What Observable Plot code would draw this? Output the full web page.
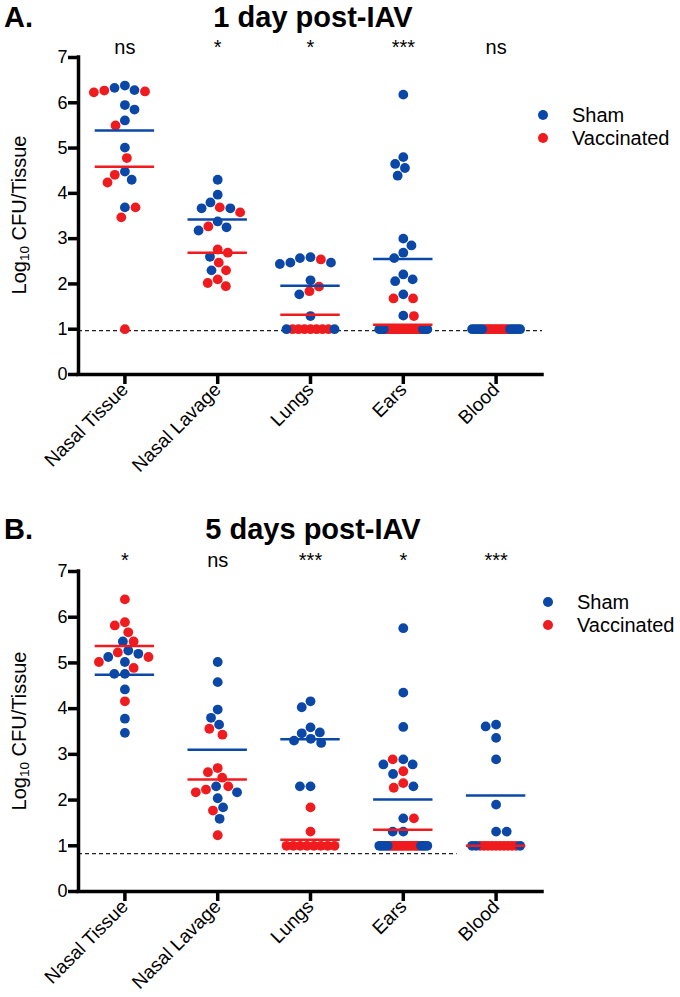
<!DOCTYPE html>
<html><head><meta charset="utf-8">
<script src="https://cdn.jsdelivr.net/npm/d3@7"></script>
<script src="https://cdn.jsdelivr.net/npm/@observablehq/plot@0.6"></script>
<style>
body{margin:0;background:#fff;font-family:"Liberation Sans",Arial,Helvetica,sans-serif;color:#000}
.panel{position:relative;width:680px}
.panel svg{display:block;overflow:visible}
.abs{position:absolute;white-space:nowrap;line-height:1}
.letter,.title{font-weight:bold;font-size:29px}
.title{transform:translateX(-50%)}
.ylab{font-size:20px;transform:translate(-50%,-50%) rotate(-90deg)}
.ylab sub{font-size:0.68em;vertical-align:-0.25em;line-height:0}
.legtext{font-size:20px}
.sw{position:absolute;width:10px;height:10px;border-radius:50%}
</style></head><body>
<div id="panelA" class="panel" style="height:500px"></div>
<div id="panelB" class="panel" style="height:497px"></div>
<script>
// ---------- data ----------
const categories = ["Nasal Tissue", "Nasal Lavage", "Lungs", "Ears", "Blood"];
const groups = ["Sham", "Vaccinated"];
const colors = ["#0b47a6", "#ef1b1f"];

// Panel A: 1 day post-IAV (log10 CFU/tissue)
const sigA = ["ns", "*", "*", "***", "ns"];
const shamA = [
  [6.33, 6.28, 6.38, 5.95, 5.85, 5.61, 5.01, 4.48, 4.30, 3.69],
  [4.30, 3.97, 3.80, 3.67, 3.67, 3.38, 3.25, 3.18, 2.60, 2.30],
  [2.57, 2.47, 2.44, 2.47, 2.59, 2.08, 1.77, 1.29, 1, 1],
  [6.18, 4.80, 4.56, 4.65, 4.39, 3.00, 2.85, 2.69, 2.57, 2.21, 2.06, 2.10, 1.77, 1.30, 1, 1, 1, 1, 1, 1],
  [1, 1, 1, 1, 1, 1, 1, 1, 1, 1]
];
const vaccA = [
  [6.27, 6.23, 6.25, 5.50, 4.78, 4.41, 4.24, 3.69, 3.47, 1.00],
  [3.58, 3.69, 3.27, 2.69, 2.76, 2.47, 2.30, 2.10, 1.95, 2.02],
  [2.54, 1.84, 1.94, 1, 1, 1, 1, 1, 1, 1],
  [1.68, 1.68, 1.29, 1, 1, 1, 1, 1, 1, 1, 1, 1, 1, 1, 1, 1, 1, 1, 1, 1],
  [1, 1, 1, 1, 1, 1, 1, 1, 1, 1]
];
const meanShamA = [5.39, 3.42, 1.96, 2.55, null];
const meanVaccA = [4.59, 2.69, 1.32, 1.10, null];
const lodA = [0.97];
const lodEndA = 4.5;

// Panel B: 5 days post-IAV
const sigB = ["*", "ns", "***", "*", "***"];
const shamB = [
  [5.47, 5.13, 5.20, 5.27, 5.02, 4.76, 4.76, 4.42, 3.78, 3.47],
  [5.02, 4.58, 3.98, 3.80, 3.65, 2.04, 2.17, 2.30, 1.84, 1.59],
  [4.16, 4.03, 3.59, 3.46, 3.48, 3.30, 3.25, 3.34, 2.30, 2.30],
  [5.76, 4.35, 3.60, 2.78, 2.78, 2.89, 2.57, 2.30, 1.60, 1.31, 1.31, 1, 1, 1, 1, 1, 1, 1, 1, 1],
  [3.61, 3.65, 3.36, 2.89, 1.90, 1.31, 1.31, 1, 1, 1]
];
const vaccB = [
  [6.39, 5.89, 5.67, 5.82, 5.47, 5.23, 5.13, 5.02, 4.89, 4.16],
  [3.43, 3.56, 2.61, 2.49, 2.70, 2.30, 2.17, 2.23, 1.77, 1.23],
  [1.84, 1.31, 1, 1, 1, 1, 1, 1, 1, 1],
  [2.89, 2.63, 2.37, 2.27, 1.60, 1, 1, 1, 1, 1, 1, 1, 1, 1, 1, 1, 1, 1, 1, 1],
  [1, 1, 1, 1, 1, 1, 1, 1, 1, 1]
];
const meanShamB = [4.74, 3.10, 3.33, 2.01, 2.10];
const meanVaccB = [5.37, 2.45, 1.13, 1.35, 1.00];
const lodB = [0.83];
const lodEndB = 3.58;

const yTicks = [0, 1, 2, 3, 4, 5, 6, 7];

// ---------- layout helpers ----------
const W = 680, ML = 78, MR = 138;
const xDomain = [-0.5, categories.length - 0.5];
const STEP = (W - ML - MR) / categories.length;
const R = 4.9, D = 10.6, MAXROW = 48, MEANHW = 0.32;

function swarm(points, pxPerUnit) {
  const counts = d3.rollup(points, v => v.length, d => d.value);
  const placed = [];
  for (const [val, n] of counts) {
    if (n < 4) continue;
    const members = points.filter(p => p.value === val);
    const blues = members.filter(p => p.group === 0), reds = members.filter(p => p.group === 1);
    const nl = Math.ceil(blues.length / 2);
    const ordered = [...blues.slice(0, nl), ...reds, ...blues.slice(nl)];
    const s = Math.min(D, MAXROW / (n - 1));
    ordered.forEach((p, k) => {
      p.px = (k - (n - 1) / 2) * s; p.py = val * pxPerUnit; p.tie = true; placed.push(p);
    });
  }
  const rest = points.filter(p => counts.get(p.value) < 4).sort((a, b) => b.value - a.value);
  let side = -1;
  for (const p of rest) {
    p.py = p.value * pxPerUnit;
    const cands = [0];
    for (const q of placed) {
      const dy = Math.abs(q.py - p.py);
      if (dy < D) { const dx = Math.sqrt(D * D - dy * dy); cands.push(q.px + dx, q.px - dx); }
    }
    const ok = x => placed.every(q => (q.px - x) ** 2 + (q.py - p.py) ** 2 >= D * D - 1e-6);
    let best = null;
    for (const x of cands) {
      if (!ok(x)) continue;
      if (best === null) { best = x; continue; }
      const a = Math.abs(x), b = Math.abs(best);
      if (a < b - 0.5 || (Math.abs(a - b) <= 0.5 && Math.sign(x) === side)) best = x;
    }
    p.px = best;
    if (best !== 0) side = -Math.sign(best);
    p.tie = false;
    placed.push(p);
  }
}

function buildDots(sham, vacc, pxPerUnit) {
  const out = [];
  categories.forEach((c, i) => {
    const pts = [
      ...sham[i].map(v => ({value: v, group: 0})),
      ...vacc[i].map(v => ({value: v, group: 1}))
    ];
    swarm(pts, pxPerUnit);
    pts.forEach(p => out.push({i, x: i + p.px / STEP, value: p.value, group: groups[p.group],
      order: p.tie ? 1 + Math.abs(p.px) : 0}));
  });
  return out.sort((a, b) => a.order - b.order);
}

function meanRows(ms, mv) {
  const rows = [];
  categories.forEach((c, i) => {
    if (ms[i] != null) rows.push({i, value: ms[i], group: groups[0]});
    if (mv[i] != null) rows.push({i, value: mv[i], group: groups[1]});
  });
  return rows;
}

function drawPanel(cfg) {
  const host = document.getElementById(cfg.id);
  const plotH = cfg.height - cfg.mt - cfg.mb;
  const pxPerUnit = plotH / (yTicks[yTicks.length - 1] - yTicks[0]);
  const dots = buildDots(cfg.sham, cfg.vacc, pxPerUnit);
  const means = meanRows(cfg.meanSham, cfg.meanVacc);
  const chart = Plot.plot({
    width: W, height: cfg.height,
    marginLeft: ML, marginRight: MR, marginTop: cfg.mt, marginBottom: cfg.mb,
    style: {fontFamily: '"Liberation Sans", Arial, sans-serif', background: "white", color: "black"},
    x: {domain: xDomain},
    y: {domain: [yTicks[0], yTicks[yTicks.length - 1]]},
    color: {domain: groups, range: colors},
    marks: [
      Plot.ruleY(cfg.lod, {y: d => d, x1: xDomain[0], x2: cfg.lodEnd, stroke: "#222", strokeWidth: 1.3, strokeDasharray: "4,3"}),
      Plot.axisY({ticks: yTicks, tickSize: 10, tickPadding: 1, strokeWidth: 3.5, fontSize: 18, label: null, tickFormat: d3.format("d")}),
      Plot.axisX({ticks: d3.range(categories.length), tickFormat: i => categories[i], tickRotate: -45,
        tickSize: 10, tickPadding: 2, strokeWidth: 3.5, fontSize: 19, label: null}),
      Plot.ruleY([yTicks[0]], {strokeWidth: 3.5, strokeLinecap: "square"}),
      Plot.ruleX([xDomain[0]], {strokeWidth: 3.5, strokeLinecap: "square"}),
      Plot.dot(dots, {x: "x", y: "value", r: R, fill: "group"}),
      Plot.ruleY(means, {y: "value", x1: d => d.i - MEANHW, x2: d => d.i + MEANHW, stroke: "group", strokeWidth: 2.5}),
      Plot.text(cfg.sig, {x: (d, i) => i, text: d => d, frameAnchor: "top", lineAnchor: "bottom", dy: cfg.sigDy, fontSize: 20})
    ]
  });
  host.appendChild(chart);

  const add = (cls, html, css) => {
    const el = document.createElement("div");
    el.className = "abs " + cls; el.innerHTML = html;
    Object.assign(el.style, css); host.appendChild(el); return el;
  };
  const base = fs => 0.8465 * fs;
  const tTop = Math.max(2.5, cfg.titleBase - base(29));
  add("letter", cfg.letter, {left: "4px", top: tTop + "px"});
  add("title", cfg.title, {left: ((ML + W - MR) / 2 + 3) + "px", top: tTop + "px"});
  add("ylab", "Log<sub>10</sub> CFU/Tissue", {left: "19px", top: cfg.ylabY + "px"});
  groups.forEach((g, k) => {
    const cy = cfg.leg.y0 + k * cfg.leg.dy;
    const sw = document.createElement("div");
    sw.className = "sw";
    Object.assign(sw.style, {left: (cfg.leg.dotX - 5) + "px", top: (cy - 5) + "px", background: colors[k]});
    host.appendChild(sw);
    add("legtext", g, {left: cfg.leg.textX + "px", top: (cy + 7.3 - base(20)) + "px"});
  });
}

drawPanel({id: "panelA", height: 500, mt: 57, mb: 126, sham: shamA, vacc: vaccA,
  meanSham: meanShamA, meanVacc: meanVaccA, lod: lodA, lodEnd: lodEndA, sig: sigA, sigDy: -4,
  letter: "A.", title: "1 day post-IAV", titleBase: 23, ylabY: 215,
  leg: {dotX: 543, textX: 572, y0: 115, dy: 23}});
drawPanel({id: "panelB", height: 497, mt: 71, mb: 106, sham: shamB, vacc: vaccB,
  meanSham: meanShamB, meanVacc: meanVaccB, lod: lodB, lodEnd: lodEndB, sig: sigB, sigDy: -5,
  letter: "B.", title: "5 days post-IAV", titleBase: 40, ylabY: 231,
  leg: {dotX: 548, textX: 577, y0: 102, dy: 23}});
</script></body></html>
